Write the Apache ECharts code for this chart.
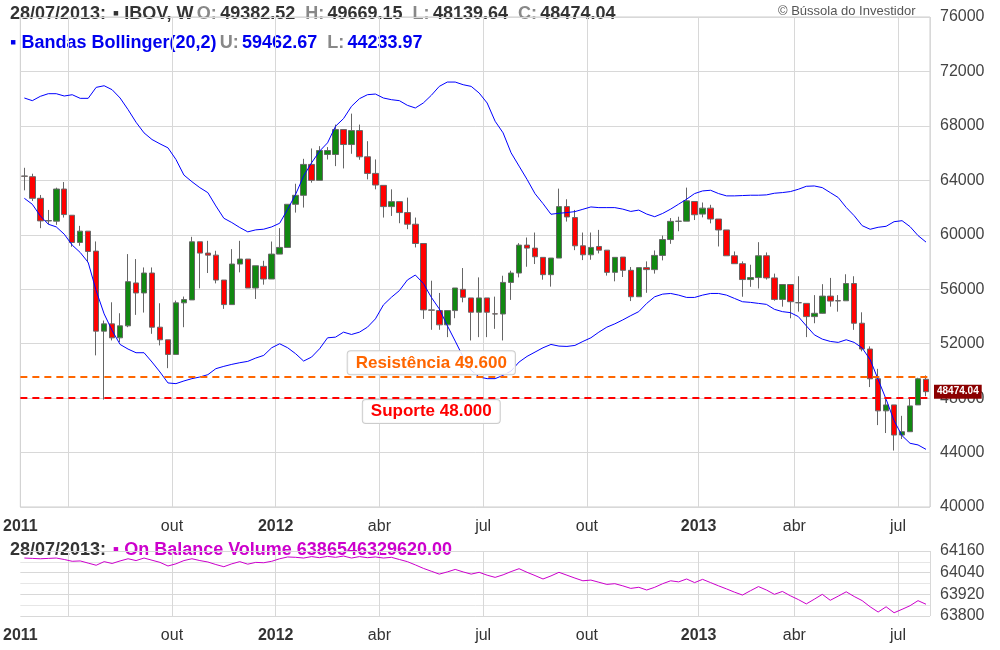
<!DOCTYPE html>
<html>
<head>
<meta charset="utf-8">
<script src="https://cdn.jsdelivr.net/npm/echarts@6/dist/echarts.min.js"></script>
<style>
html, body { margin: 0; padding: 0; background: #fff; }
#chart { width: 1000px; height: 650px; }
</style>
</head>
<body>
<div id="chart"></div>
<script>
// candles, weekly: [open, close, low, high]
const candles = [
    [64315, 64300, 63265, 64920], [64266, 62680, 62485, 64485], [62680, 61020, 60485, 62925], [61020, 61040, 60775, 61825],
    [61000, 63360, 60730, 63460], [63360, 61485, 61265, 63875], [61435, 59435, 59120, 61435], [59435, 60265, 59190, 60655],
    [60265, 58775, 57970, 60265], [58800, 52920, 51140, 59510], [52920, 53455, 47890, 53700], [53455, 52430, 52235, 55040],
    [52430, 53310, 52115, 54235], [53310, 56555, 53210, 58580], [56460, 55725, 54115, 58215], [55725, 57190, 54285, 57600],
    [57190, 53210, 52725, 57600], [53210, 52285, 51870, 54970], [52285, 51210, 50200, 52285], [51210, 55000, 51210, 55165],
    [55000, 55240, 53210, 55460], [55215, 59485, 55215, 59850], [59485, 58655, 56065, 59485], [58655, 58505, 57190, 59555],
    [58505, 56675, 56430, 58825], [56675, 54870, 54555, 56675], [54870, 57850, 54870, 58945], [57850, 58215, 57240, 59555],
    [58215, 56090, 56090, 58215], [56090, 57725, 55285, 57725], [57680, 56750, 56335, 58090], [56750, 58580, 56750, 59505],
    [58580, 59070, 58580, 60485], [59070, 62240, 59070, 62240], [62240, 62900, 61630, 63750], [62900, 65170, 62000, 65580],
    [65170, 64000, 63830, 66340], [64000, 66190, 64000, 66510], [65900, 66190, 65530, 66440], [65900, 67730, 65045, 68095],
    [67730, 66630, 64875, 67730], [66630, 67655, 65950, 68900], [67655, 65730, 65510, 68095], [65730, 64510, 64070, 66875],
    [64510, 63655, 63340, 65535], [63630, 62070, 61265, 63630], [62070, 62435, 61385, 63340], [62435, 61630, 60850, 62435],
    [61630, 60775, 60410, 62730], [60775, 59360, 59070, 61265], [59360, 54480, 53820, 59360], [54480, 54460, 53020, 56625],
    [54430, 53385, 53020, 55725], [53385, 54430, 52480, 54430], [54430, 56090, 53870, 56090], [55990, 55410, 55040, 57555],
    [55360, 54310, 52235, 55360], [54310, 55360, 52480, 56870], [55360, 54310, 52480, 55360], [54190, 54180, 53090, 55455],
    [54180, 56500, 52235, 56990], [56500, 57190, 55215, 57360], [57190, 59240, 56870, 59385], [59240, 59020, 57650, 59800],
    [59020, 58385, 57850, 60165], [58340, 57070, 56700, 58340], [57070, 58290, 56190, 58290], [58290, 62070, 58290, 63390],
    [62070, 61310, 60970, 62610], [61265, 59190, 58870, 61825], [59190, 58530, 58140, 60165], [58530, 59070, 58165, 60165],
    [59140, 58870, 58630, 60360], [58870, 57240, 57000, 58870], [57240, 58340, 56580, 58340], [58362, 57390, 56900, 58362],
    [57390, 55446, 55130, 57633], [55446, 57585, 55446, 57585], [57585, 57440, 55737, 58045], [57440, 58483, 57147, 58848],
    [58483, 59650, 58119, 59942], [59650, 60986, 59334, 61230], [60986, 61000, 60260, 61327], [61000, 62493, 61000, 63465],
    [62445, 61472, 61083, 62445], [61520, 61958, 61278, 62372], [61958, 61156, 60840, 62202], [61156, 60354, 59140, 61156],
    [60354, 58459, 58459, 60354], [58459, 57876, 57876, 58775], [57876, 56710, 55446, 58045], [56710, 56856, 56175, 57800],
    [56856, 58459, 56054, 59456], [58459, 56832, 56710, 58702], [56832, 55252, 55155, 57147], [55252, 56345, 54717, 56345],
    [56345, 55082, 53867, 56345], [55008, 55010, 54352, 56952], [54960, 53988, 52482, 54960], [53988, 54231, 53502, 55567],
    [54231, 55494, 54280, 56370], [55494, 55130, 54717, 56831], [55160, 55140, 54352, 55567], [55150, 56418, 55150, 57098],
    [56418, 53502, 53016, 56952], [53502, 51606, 51436, 54304], [51606, 49420, 48812, 51800], [49420, 47063, 46017, 50150],
    [47063, 47500, 45434, 48034], [47500, 45287, 44147, 47500], [45287, 45530, 44997, 46698], [45530, 47427, 45530, 48034],
    [47500, 49420, 47500, 49494], [49382.52, 48474.04, 48139.64, 49669.15]
]

const bandUpper = [
    70048, 69853, 70170, 70365, 70365, 70195, 70290, 70024, 70024, 70830, 70950, 70658, 70048, 69194, 68267, 67486,
    66998, 66680, 66388, 65534, 64387, 63900, 63460, 63094, 62118, 61215, 60898, 60532, 60215, 60361, 60410, 60580,
    60849, 61874, 62972, 64314, 65290, 66144, 66754, 67974, 68535, 69438, 70000, 70292, 70340, 70048, 69926, 69853,
    69512, 69316, 69682, 70244, 70902, 71220, 71220, 71024, 70902, 70414, 69682, 68340, 67486, 66022, 65046, 64070,
    63020, 62289, 61508, 61581, 61630, 61703, 61874, 62045, 61996, 61996, 61996, 61885, 61715, 61813, 61521, 61327,
    61570, 61885, 62250, 62615, 63028, 63222, 63271, 63028, 62858, 62858, 62882, 62906, 62906, 62930, 63052, 63100,
    63173, 63343, 63562, 63587, 63465, 63100, 62736, 62007, 61400, 60670, 60404, 60550, 60622, 60962, 61035, 60598,
    59942, 59462.67
]

const bandLower = [
    62680, 62240, 61386, 60776, 60580, 60044, 59239, 58702, 57970, 55896, 54188, 52968, 51943, 51602, 51334, 51334,
    50650, 49918, 49113, 49064, 49260, 49430, 49552, 49723, 50162, 50333, 50479, 50601, 50699, 50943, 51138, 51700,
    51992, 51700, 51260, 50723, 51016, 51626, 52431, 52480, 52846, 52675, 52846, 53212, 53822, 54847, 55408, 55896,
    56677, 57043, 56433, 55408, 54554, 53334, 52187, 51016, 50040, 49552, 49430, 49430, 49674, 49991, 50650, 51065,
    51382, 51700, 51943, 51821, 51797, 51870, 52163, 52431, 52846, 53212, 53456, 53745, 54061, 54353, 54960, 55446,
    55640, 55689, 55567, 55397, 55397, 55567, 55689, 55689, 55567, 55324, 55081, 55033, 54960, 54887, 54523, 54353,
    54280, 53988, 53308, 52651, 52335, 52166, 52093, 52287, 52093, 51680, 50829, 49371, 47913, 46334, 45240, 44681,
    44560, 44233.97
]

// On Balance Volume, in units of 1e8
const obv = [
    64121, 64119, 64117, 64119, 64121, 64113, 64103, 64105, 64093, 64081, 64101, 64091, 64105, 64117, 64107, 64121,
    64109, 64097, 64077, 64089, 64107, 64117, 64107, 64099, 64085, 64073, 64089, 64101, 64087, 64097, 64095, 64103,
    64117, 64127, 64125, 64121, 64129, 64123, 64130, 64125, 64132, 64121, 64129, 64123, 64127, 64121, 64125, 64113,
    64101, 64083, 64064, 64048, 64032, 64044, 64058, 64044, 64032, 64042, 64026, 64014, 64028, 64046, 64062, 64042,
    64024, 64005, 64022, 64042, 64026, 64010, 63995, 63999, 63987, 63975, 63979, 63967, 63953, 63959, 63944, 63959,
    63979, 63995, 63989, 64005, 63985, 64003, 63985, 63967, 63950, 63932, 63916, 63940, 63963, 63944, 63920, 63936,
    63912, 63891, 63867, 63893, 63920, 63887, 63910, 63934, 63908, 63885, 63851, 63822, 63851, 63818, 63837, 63857,
    63885, 63865
]

const resistencia = 49600
const suporte = 48000
const ultimo = 48474.04
const mesesTrimestre = { 3: 'abr', 6: 'jul', 9: 'out' }

// tanggal mingguan (senin), candle terakhir minggu 22/07/2013
const tanggal = []
const akhir = Date.UTC(2013, 6, 22)
for (let i = 0; i < candles.length; i++) {
    tanggal.push(new Date(akhir - (candles.length - 1 - i) * 7 * 86400000))
}

// label sumbu x: awal kuartal
const labelX = {}
labelX[0] = '{y|2011}'
for (let i = 1; i < tanggal.length; i++) {
    const m = tanggal[i].getUTCMonth()
    if (m !== tanggal[i - 1].getUTCMonth() && m % 3 === 0) {
        if (m === 0) labelX[i] = '{y|' + tanggal[i].getUTCFullYear() + '}'
        else if (i > 10) labelX[i] = mesesTrimestre[m]
        else labelX[i] = ''
    }
}
const kategori = tanggal.map((d) => d.toISOString().slice(0, 10))

const fontName = 'Liberation Sans'
const garisKosong = { color: 'rgba(0,0,0,0)', width: 1, type: 'solid' }

function sumbuX(gridIndex) {
    return {
        type: 'category',
        gridIndex: gridIndex,
        data: kategori,
        boundaryGap: true,
        axisLine: { show: false },
        axisTick: { show: false },
        axisLabel: {
            interval: (i) => labelX[i] !== undefined,
            formatter: (v, i) => labelX[i] || '',
            color: '#333',
            fontFamily: fontName,
            fontSize: 16,
            margin: 12,
            padding: [0, 8, 0, 0],
            rich: { y: { fontWeight: 'bold', fontSize: 16, color: '#333', fontFamily: fontName } }
        },
        splitLine: {
            show: true,
            interval: (i) => labelX[i] !== undefined && i > 0,
            lineStyle: { color: '#d8d8d8' }
        }
    }
}

function labelKotak(teks, warna, posisi) {
    return {
        show: true, position: posisi, formatter: teks,
        color: warna, fontSize: 17, fontWeight: 'bold', fontFamily: fontName,
        backgroundColor: 'rgba(255,255,255,0.85)', borderColor: '#ccc', borderWidth: 1,
        borderRadius: 3, padding: [3, 8], distance: 2
    }
}

const chart = echarts.init(document.getElementById('chart'))
const option = {
    backgroundColor: '#fff',
    animation: false,
    textStyle: { fontFamily: fontName },
    graphic: [
        {
            type: 'text', left: 10, top: 5,
            style: {
                text: '{g|28/07/2013:}  {g|▪ IBOV, W} {k|O:} {g|49382.52}   {k|H:} {g|49669.15}   {k|L:} {g|48139.64}   {k|C:} {g|48474.04}',
                rich: {
                    g: { fontSize: 18, fontWeight: 'bold', fill: '#333', fontFamily: fontName },
                    k: { fontSize: 18, fontWeight: 'bold', fill: '#888', fontFamily: fontName }
                }
            }
        },
        {
            type: 'text', left: 10, top: 34,
            style: {
                text: '{b|▪ Bandas Bollinger(20,2)} {k|U:} {b|59462.67}   {k|L:} {b|44233.97}',
                rich: {
                    b: { fontSize: 18, fontWeight: 'bold', fill: '#0000ee', fontFamily: fontName },
                    k: { fontSize: 18, fontWeight: 'bold', fill: '#888', fontFamily: fontName }
                }
            }
        },
        {
            type: 'text', left: 778, top: 5,
            style: { text: '© Bússola do Investidor', fontSize: 13, fill: '#555', fontFamily: fontName }
        },
        {
            type: 'text', left: 10, top: 541,
            style: {
                text: '{g|28/07/2013:}  {m|▪ On Balance Volume 6386546329620.00}',
                rich: {
                    g: { fontSize: 18, fontWeight: 'bold', fill: '#333', fontFamily: fontName },
                    m: { fontSize: 18, fontWeight: 'bold', fill: '#cc00cc', fontFamily: fontName }
                }
            }
        }
    ],
    grid: [
        { left: 18, right: 70, top: 17, height: 490, show: true, borderColor: '#ccc', backgroundColor: 'transparent' },
        { left: 18, right: 70, top: 551, height: 65, show: false }
    ],
    xAxis: [sumbuX(0), sumbuX(1)],
    yAxis: [
        {
            type: 'value', gridIndex: 0, position: 'right',
            min: 40000, max: 76000, interval: 4000,
            axisLine: { show: false }, axisTick: { show: false },
            axisLabel: { color: '#444', fontSize: 16, fontFamily: fontName, margin: 10, formatter: (v) => String(v) },
            splitLine: { lineStyle: { color: '#d8d8d8' } }
        },
        {
            type: 'value', gridIndex: 1, position: 'right',
            min: 63800, max: 64160, interval: 120,
            axisLine: { show: false }, axisTick: { show: false },
            axisLabel: { color: '#444', fontSize: 16, fontFamily: fontName, margin: 10, formatter: (v) => String(v) },
            splitLine: { lineStyle: { color: '#d8d8d8' } },
            minorTick: { show: false, splitNumber: 2 },
            minorSplitLine: { show: true, lineStyle: { color: '#e6e6e6' } }
        }
    ],
    series: [
        {
            name: 'IBOV',
            type: 'candlestick',
            xAxisIndex: 0, yAxisIndex: 0,
            data: candles,
            barWidth: 6,
            itemStyle: {
                color: '#118811', color0: '#ff0000',
                borderColor: '#666', borderColor0: '#666', borderWidth: 1
            },
            markLine: {
                symbol: 'none',
                silent: true,
                data: [
                    {
                        yAxis: resistencia,
                        lineStyle: { color: '#ff6600', type: [7, 5], width: 2 },
                        label: { show: false }
                    },
                    {
                        yAxis: suporte,
                        lineStyle: { color: '#ff0000', type: [7, 5], width: 2 },
                        label: { show: false }
                    },
                    [
                        { coord: [kategori[0], resistencia], lineStyle: garisKosong, label: labelKotak('Resistência 49.600', '#ff6600', 'insideMiddleTop') },
                        { coord: [kategori[102], resistencia] }
                    ],
                    [
                        { coord: [kategori[0], suporte], lineStyle: garisKosong, label: labelKotak('Suporte 48.000', '#ff0000', 'insideMiddleBottom') },
                        { coord: [kategori[102], suporte] }
                    ],
                    {
                        yAxis: ultimo,
                        lineStyle: garisKosong,
                        label: {
                            show: true, position: 'end', formatter: '48474.04',
                            color: '#fff', fontSize: 10, fontWeight: 'bold', fontFamily: fontName,
                            backgroundColor: '#8b0000', padding: [2, 3], distance: 4
                        }
                    }
                ]
            }
        },
        {
            name: 'BB U', type: 'line', xAxisIndex: 0, yAxisIndex: 0,
            data: bandUpper, showSymbol: false, silent: true,
            lineStyle: { color: '#0000ff', width: 1 }
        },
        {
            name: 'BB L', type: 'line', xAxisIndex: 0, yAxisIndex: 0,
            data: bandLower, showSymbol: false, silent: true,
            lineStyle: { color: '#0000ff', width: 1 }
        },
        {
            name: 'OBV', type: 'line', xAxisIndex: 1, yAxisIndex: 1,
            data: obv, showSymbol: false, silent: true,
            lineStyle: { color: '#cc00cc', width: 1 }
        }
    ]
}
chart.setOption(option)
</script>
</body>
</html>
